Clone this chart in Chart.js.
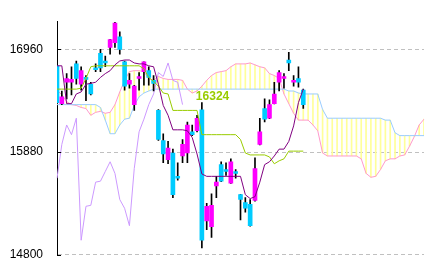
<!DOCTYPE html>
<html><head><meta charset="utf-8">
<script src="https://cdn.jsdelivr.net/npm/chart.js@4/dist/chart.umd.min.js"></script>
<style>html,body{margin:0;padding:0;background:#fff;overflow:hidden}canvas{display:block}</style>
</head><body>
<canvas id="c" width="430" height="276"></canvas>
<script>
// ---- data (prices) ----
const opens  = [16787,16389,16614,16614,16807,16593,16665,16593,16766,16919,16838,16980,17031,17092,16828,16593,16379,16654,16726,16736,16634,16318,16002,15799,15870,15625,15839,15870,16093,16104,16324,15157,15096,15523,15748,15697,15554,15676,15432,15350,15330,15371,15961,16338,16236,16389,16614,16654,16848,16614,16654,16532];
const highs  = [16790,16522,16705,16777,16838,16777,16685,16614,16807,16960,16889,17065,17245,17143,16838,16705,16583,16716,16830,16777,16685,16328,16073,15992,15911,15768,16012,16196,16165,16267,16400,15340,15442,15625,15778,15768,15809,15697,15435,15401,15381,15819,16236,16440,16430,16614,16736,16705,16930,16685,16777,16542];
const lows   = [16389,16379,16440,16481,16593,16532,16420,16481,16726,16726,16777,16909,16980,16909,16532,16552,16318,16532,16583,16583,16522,16002,15768,15757,15401,15584,15768,15768,16053,16093,14872,15065,14984,15401,15570,15635,15550,15605,15167,15248,15100,15365,15955,16196,16230,16385,16522,16552,16736,16573,16563,16338];
const closes = [16400,16461,16654,16644,16654,16736,16644,16491,16746,16766,16817,17062,17235,16960,16573,16634,16573,16675,16828,16665,16603,16012,15860,15921,15432,15605,15961,16165,16063,16236,14953,15310,15320,15564,15574,15676,15778,15656,15381,15289,15106,15707,16093,16226,16379,16491,16716,16675,16817,16634,16614,16379];
const tenkan = [16787,16787,16389,16389,16491,16512,16593,16603,16614,16665,16705,16736,16797,16838,16848,16848,16817,16807,16807,16787,16777,16593,16370,16267,16114,16114,16114,16104,16033,15860,15650,15625,15625,15625,15625,15625,15625,15625,15625,15432,15391,15411,15564,15748,15778,15839,15911,15911,15992,16155,16400,16542];
const kijun  = [16542,16542,16542,16542,16542,16552,16654,16777,16787,16787,16787,16787,16787,16787,16787,16787,16787,16787,16756,16665,16624,16573,16501,16491,16318,16318,16318,16318,16318,16318,16063,16063,16063,16063,16063,16063,16063,16063,16012,15870,15850,15850,15850,15850,15829,15757,15788,15809,15890,15890,15890,15890];
const senkouA = [16532,16481,16410,16379,16370,16349,16338,16267,16298,16308,16288,16298,16379,16512,16634,16726,16736,16736,16726,16654,16634,16675,16654,16644,16644,16644,16634,16542,16501,16522,16573,16634,16685,16716,16726,16736,16777,16807,16807,16807,16817,16797,16777,16766,16705,16685,16654,16491,16389,16288,16216,16216,16216,16165,16104,15870,15839,15839,15839,15839,15839,15839,15839,15809,15656,15615,15625,15697,15788,15809,15809,15839,15850,15941,16043,16165,16226];
const senkouB = [16379,16379,16379,16379,16379,16379,16379,16379,16379,16349,16216,16073,16073,16165,16226,16236,16370,16461,16501,16522,16542,16542,16542,16542,16542,16542,16542,16542,16542,16542,16542,16542,16542,16542,16542,16542,16542,16542,16542,16542,16542,16542,16542,16542,16542,16542,16542,16542,16522,16522,16501,16491,16491,16491,16491,16328,16236,16236,16236,16236,16236,16236,16236,16236,16236,16236,16236,16236,16216,16216,16083,16053,16053,16053,16053,16053,16053];
const yTicks = [14800, 15880, 16960];
const yMin = 14800, yMax = 17256;
const lagShift = 25;
const labelIndex = 30, labelValue = 16324;

// ---- derived tables ----
const N = senkouA.length;
const categories = senkouA.map((_, i) => String(i + 1));
const pad = a => a.concat(new Array(N - a.length).fill(null));
const chikou = pad(closes.slice(lagShift));
const UP = '#ff00ff', DOWN = '#00ccff';

const axisTicks = {
  id: 'axisTicks',
  afterDatasetsDraw(chart) {
    const {ctx, scales: {y}, chartArea} = chart;
    ctx.save();
    ctx.strokeStyle = '#000';
    ctx.lineWidth = 1;
    yTicks.forEach(v => {
      const py = Math.round(y.getPixelForValue(v)) + 0.5;
      ctx.beginPath();
      ctx.moveTo(chartArea.left, py);
      ctx.lineTo(chartArea.left + 4, py);
      ctx.stroke();
    });
    ctx.restore();
  }
};
const peakLabel = {
  id: 'peakLabel',
  afterDatasetsDraw(chart) {
    const {ctx, scales: {x, y}} = chart;
    ctx.save();
    ctx.font = 'bold 12px "Liberation Sans", Arial, sans-serif';
    ctx.fillStyle = '#99cc00';
    ctx.textAlign = 'left';
    ctx.textBaseline = 'alphabetic';
    ctx.fillText(String(labelValue), x.getPixelForValue(labelIndex) - 6, y.getPixelForValue(labelValue) - 10);
    ctx.restore();
  }
};

const lineDs = (data, color, order) => ({
  type: 'line', data, borderColor: color, borderWidth: 1, pointRadius: 0,
  tension: 0, fill: false, spanGaps: false, order
});

new Chart(document.getElementById('c'), {
  type: 'bar',
  data: {
    labels: categories,
    datasets: [
      { type: 'bar', data: senkouA.map((a, i) => [a, senkouB[i]]), backgroundColor: '#ffff99',
        barThickness: 1, grouped: false, borderWidth: 0, order: 20 },
      lineDs(senkouA, '#ff99cc', 15),
      lineDs(senkouB, '#99ccff', 14),
      lineDs(chikou, '#cc99ff', 13),
      { type: 'bar', data: pad(lows.map((l, i) => [l, highs[i]])), backgroundColor: '#000',
        barThickness: 1, grouped: false, borderWidth: 0, order: 6 },
      { type: 'bar', data: pad(opens.map((o, i) => [o, closes[i]])),
        backgroundColor: pad(opens.map((o, i) => closes[i] >= o ? UP : DOWN)),
        barThickness: 4, grouped: false, borderWidth: 0, order: 5 },
      lineDs(pad(kijun), '#99cc00', 2),
      lineDs(pad(tenkan), '#800080', 1)
    ]
  },
  options: {
    responsive: false,
    animation: false,
    devicePixelRatio: 1,
    layout: { padding: { left: 0, top: 21, right: 6, bottom: 14 } },
    plugins: { legend: { display: false }, tooltip: { enabled: false } },
    scales: {
      x: { display: false, offset: false, grid: { display: false } },
      y: {
        min: yMin, max: yMax,
        afterBuildTicks: s => { s.ticks = yTicks.map(v => ({ value: v })); },
        afterFit: s => { s.width = 57; },
        ticks: { color: '#000', padding: 14, font: { family: '"Liberation Sans Narrow", "Liberation Sans", sans-serif', size: 12 },
                 callback: v => String(v) },
        grid: { color: '#c0c0c0', lineWidth: 1, drawTicks: false },
        border: { display: true, color: '#000', width: 1, dash: [4, 3] }
      }
    }
  },
  plugins: [axisTicks, peakLabel]
});
</script>
</body></html>
